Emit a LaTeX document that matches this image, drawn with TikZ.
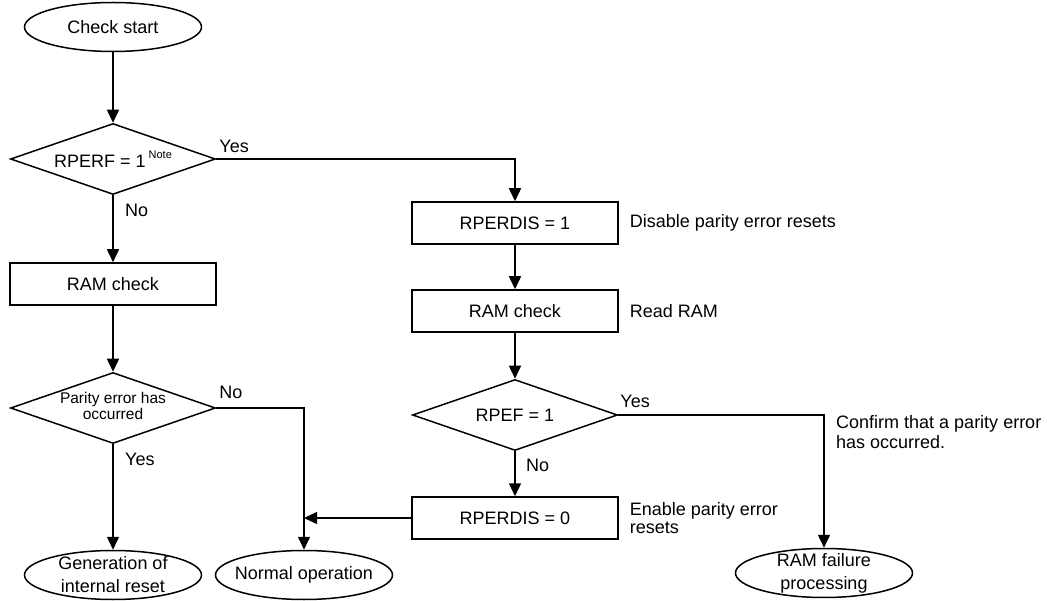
\documentclass[tikz,border=0pt]{standalone}
\usepackage{fontspec}
\setmainfont{Liberation Sans}
\usepackage{tikz}
\usetikzlibrary{shapes.geometric, arrows.meta, positioning}
\newcommand\Fnorm{\fontsize{18}{19}\selectfont}
\newcommand\Fsmall{\fontsize{15.5}{15}\selectfont}
\newcommand\Fnote{\fontsize{11}{11}\selectfont}

\begin{document}
\begin{tikzpicture}[x=1pt, y=-1pt, font=\Fnorm,
    term/.style={ellipse, draw, line width=1.5pt, minimum width=177pt, minimum height=49pt, inner sep=0pt,
                 label={[align=center, font=\fontsize{18}{23}\selectfont]center:{#1}}},
    proc/.style={rectangle, draw, line width=1.5pt, minimum width=206pt, minimum height=42pt, inner sep=0pt},
    dec/.style={diamond, draw, line width=1.5pt, minimum width=205pt, minimum height=71pt, inner sep=0pt, aspect=2.85},
    flow/.style={line width=1.5pt, -{Triangle[length=13pt, width=12pt]}},
    lbl/.style={inner sep=0pt, anchor=base west},
    note/.style={inner sep=0pt, anchor=west, align=left}]
    \useasboundingbox (0,0) rectangle (1047,601);

    % left column
    \node[term={Check start}] (start) at (113,27) {};
    \node[dec]  (d1)    at (113,159) {RPERF = 1\,\raisebox{0.5em}{\Fnote Note}};
    \node[proc] (ram1)  at (113,284) {RAM check};
    \node[dec]  (d2)    at (113,408) {\Fsmall\begin{tabular}{@{}c@{}}Parity error has\\occurred\end{tabular}};
    \node[term={Generation of\\internal reset}] (gen) at (113,575) {};
    \node[term={Normal operation}] (norm)  at (304,575) {};

    % right column
    \node[proc] (rp1)  at (515,223) {RPERDIS = 1};
    \node[proc] (ram2) at (515,311) {RAM check};
    \node[dec]  (d3)   at (515,415) {RPEF = 1};
    \node[proc] (rp0)  at (515,518) {RPERDIS = 0};
    \node[term={RAM failure\\processing}] (fail) at (824,573) {};

    % side notes
    \node[note, right=11pt of rp1.east] (n1) {Disable parity error resets};
    \node[note, right=11pt of ram2.east] (n2) {Read RAM};
    \node[note, right=11pt of rp0.east, font=\fontsize{18}{18}\selectfont] (n3) {Enable parity error\\resets};
    \node[note, font=\fontsize{18}{20}\selectfont] (n4) at (836,432) {Confirm that a parity error\\has occurred.};

    % connectors
    \foreach \a/\b in {start/d1, d1/ram1, ram1/d2, d2/gen, rp1/ram2, ram2/d3, d3/rp0}
        \draw[flow] (\a) -- (\b);
    \draw[flow] (d1.east) -| (rp1.north);
    \draw[flow] (d2.east) -| (norm.north);
    \draw[flow] (d3.east) -| (fail.north);
    \coordinate (jn) at (norm.north |- rp0.west);
    \draw[flow] (rp0.west) -- (jn);

    % branch labels
    \node[lbl] (y1) at ([shift={(3pt,6pt)}]d1.east) {Yes};
    \node[lbl] (no1) at ([shift={(12pt,-21pt)}]d1.south) {No};
    \node[lbl] (no2) at ([shift={(3pt,9pt)}]d2.east) {No};
    \node[lbl] (y2) at ([shift={(12pt,-21pt)}]d2.south) {Yes};
    \node[lbl] (y3) at ([shift={(2pt,7pt)}]d3.east) {Yes};
    \node[lbl] (no3) at ([shift={(11pt,-20pt)}]d3.south) {No};
\end{tikzpicture}
\end{document}
